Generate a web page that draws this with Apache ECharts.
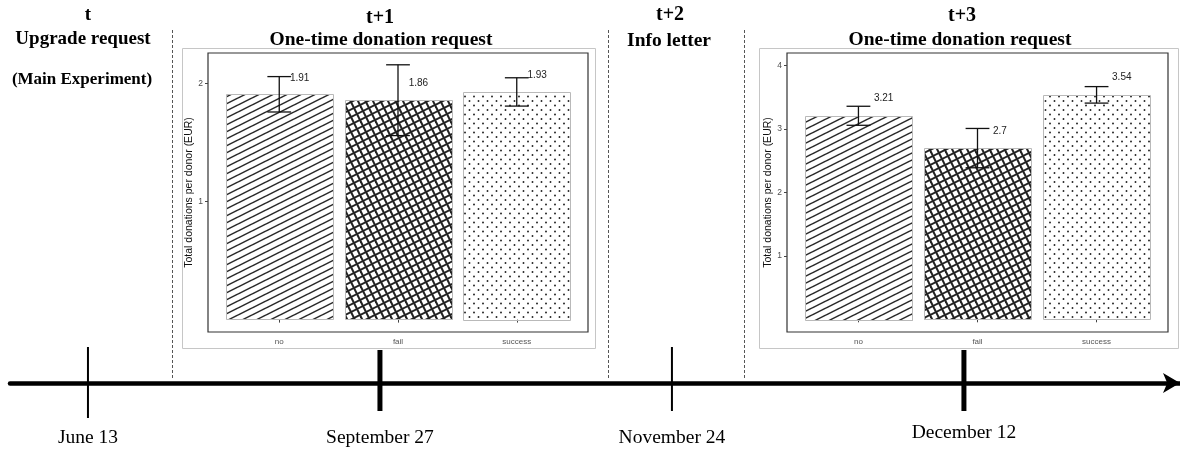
<!DOCTYPE html>
<html>
<head>
<meta charset="utf-8">
<script src="https://cdn.jsdelivr.net/npm/echarts@6/dist/echarts.min.js"></script>
<style>
  html, body { margin: 0; padding: 0; background: #fff; }
  #chart { width: 1180px; height: 452px; }
</style>
</head>
<body>
<div id="chart"></div>
<script>
// Treatment groups shown in both donation charts
const groups = ['no', 'fail', 'success'];

// t+1: one-time donation request (September 27)
const sepMeans = [1.91, 1.86, 1.93];
const sepErrors = [0.15, 0.30, 0.12];
const sepTicks = [1, 2];

// t+3: one-time donation request (December 12)
const decMeans = [3.21, 2.7, 3.54];
const decErrors = [0.15, 0.31, 0.13];
const decTicks = [1, 2, 3, 4];

// Timeline of mailings
const dates = ['June 13', 'September 27', 'November 24', 'December 12'];
const stages = ['t', 't+1', 't+2', 't+3'];
const stageTitles = ['Upgrade request', 'One-time donation request', 'Info letter', 'One-time donation request'];
const stageNote = '(Main Experiment)';
const donationRequest = [false, true, false, true];

const yTitle = 'Total donations per donor (EUR)';

// ---- fill patterns for the three groups ----
function makeCanvas(w, h) {
  const c = document.createElement('canvas');
  c.width = w; c.height = h;
  return c;
}
function hatch() {            // single diagonal lines, rising to the right
  const s = 7;
  const c = makeCanvas(2 * s, s), g = c.getContext('2d');
  g.strokeStyle = '#2a2a2a'; g.lineWidth = 1.5;
  for (let k = -2 * s; k <= 6 * s; k += 2 * s) {       // lines x + 2y = k
    g.beginPath(); g.moveTo(-2 * s, (k + 2 * s) / 2); g.lineTo(4 * s, (k - 4 * s) / 2); g.stroke();
  }
  return c;
}
function crossHatch() {       // two perpendicular families of lines
  const c = makeCanvas(15, 15), g = c.getContext('2d');
  g.strokeStyle = '#222'; g.lineWidth = 2;
  for (let k = -15; k <= 60; k += 15) {       // x + 2y = k
    g.beginPath(); g.moveTo(-30, (k + 30) / 2); g.lineTo(45, (k - 45) / 2); g.stroke();
  }
  for (let k = -45; k <= 45; k += 15) {       // 2x - y = k
    g.beginPath(); g.moveTo(-15, -30 - k); g.lineTo(30, 60 - k); g.stroke();
  }
  return c;
}
function dots() {             // sparse dot lattice
  const c = makeCanvas(9, 9), g = c.getContext('2d');
  g.fillStyle = '#222';
  [[1.5, 2], [6, 6.5]].forEach(([x, y]) => { g.beginPath(); g.arc(x, y, 0.95, 0, Math.PI * 2); g.fill(); });
  return c;
}
const fills = [hatch(), crossHatch(), dots()].map(img => ({ image: img, repeat: 'repeat' }));

// ---- donation chart helpers ----
function barSeries(idx, means, labelDx, labelDy) {
  return {
    type: 'custom', xAxisIndex: idx, yAxisIndex: idx, z: 2,
    data: means.map((m, i) => [i + 1, m]),
    encode: { x: 0, y: 1 },
    renderItem(params, api) {
      const x = api.value(0), v = api.value(1);
      const tl = api.coord([x - 0.45, v]), br = api.coord([x + 0.45, 0]);
      const lp = api.coord([x + labelDx, v + labelDy]);
      return {
        type: 'group',
        children: [
          { type: 'rect',
            shape: { x: Math.round(tl[0]) + 0.5, y: Math.round(tl[1]) + 0.5,
                     width: Math.round(br[0] - tl[0]), height: Math.round(br[1] - tl[1]) },
            style: { fill: fills[params.dataIndex], stroke: '#b9b9b9', lineWidth: 1 } },
          { type: 'text', x: lp[0], y: lp[1], z2: 10,
            style: { text: String(v), font: '10px "Liberation Sans"', fill: '#222',
                     textAlign: 'left', textVerticalAlign: 'middle' } }
        ]
      };
    }
  };
}
function errorSeries(idx, means, errs) {
  return {
    type: 'custom', xAxisIndex: idx, yAxisIndex: idx, z: 3,
    data: means.map((m, i) => [i + 1, m - errs[i], m + errs[i]]),
    encode: { x: 0, y: [1, 2] },
    renderItem(params, api) {
      const x = api.value(0), lo = api.value(1), hi = api.value(2);
      const top = api.coord([x, hi]), bot = api.coord([x, lo]);
      const l = api.coord([x - 0.1, hi])[0], r = api.coord([x + 0.1, hi])[0];
      const st = { stroke: '#111', lineWidth: 1.3 };
      return {
        type: 'group',
        children: [
          { type: 'line', shape: { x1: top[0], y1: top[1], x2: bot[0], y2: bot[1] }, style: st },
          { type: 'line', shape: { x1: l, y1: top[1], x2: r, y2: top[1] }, style: st },
          { type: 'line', shape: { x1: l, y1: bot[1], x2: r, y2: bot[1] }, style: st }
        ]
      };
    }
  };
}
function xAxisFor(idx) {
  return {
    gridIndex: idx, type: 'value', min: 0.4, max: 3.6,
    axisLine: { show: false }, splitLine: { show: false },
    axisTick: { show: true, length: 3, customValues: [1, 2, 3], lineStyle: { color: '#444' } },
    axisLabel: { customValues: [1, 2, 3], formatter: v => groups[Math.round(v) - 1],
                 fontSize: 8, color: '#555', margin: 6, fontFamily: 'Liberation Sans' }
  };
}
function yAxisFor(idx, min, max, ticks) {
  return {
    gridIndex: idx, type: 'value', min: min, max: max,
    name: yTitle, nameLocation: 'middle', nameRotate: 90, nameGap: 11,
    nameTextStyle: { fontSize: 10.5, color: '#111', fontFamily: 'Liberation Sans' },
    axisLine: { show: false }, splitLine: { show: false },
    axisTick: { show: true, length: 3, customValues: ticks, lineStyle: { color: '#444' } },
    axisLabel: { customValues: ticks, fontSize: 8.5, color: '#4d4d4d', margin: 5, fontFamily: 'Liberation Sans' }
  };
}

// ---- timeline ----
const timelineSeries = {
  type: 'custom', xAxisIndex: 2, yAxisIndex: 2, z: 5,
  data: dates.map((d, i) => [i, 0]),
  encode: { x: 0, y: 1 },
  renderItem(params, api) {
    const i = params.dataIndex;
    const p = api.coord([api.value(0), 0]);
    const major = donationRequest[i];
    const up = major ? 33 : 36;
    const down = i === 0 ? 35 : 28;
    const labelY = p[1] + (i === dates.length - 1 ? 50 : 55);
    return {
      type: 'group',
      children: [
        { type: 'line', shape: { x1: p[0], y1: p[1] - up, x2: p[0], y2: p[1] + down },
          style: { stroke: '#000', lineWidth: major ? 5 : 2 } },
        { type: 'text', x: p[0], y: labelY,
          style: { text: dates[i], font: '19.5px "Liberation Serif"', fill: '#000',
                   textAlign: 'center', textVerticalAlign: 'middle' } }
      ]
    };
  }
};

// ---- headings ----
function heading(text, x, y, size) {
  return { type: 'text', x: x, y: y, z: 10,
           style: { text: text, font: 'bold ' + (size || 19) + 'px "Liberation Serif"', fill: '#000',
                    textAlign: 'center', textVerticalAlign: 'middle' } };
}
function separator(x) {
  return { type: 'line', z: 1, shape: { x1: x, y1: 30, x2: x, y2: 378 },
           style: { stroke: '#555', lineWidth: 1, lineDash: [3, 2] } };
}
function frame(x, y, w, h) {
  return { type: 'rect', z: -1, shape: { x: x, y: y, width: w, height: h },
           style: { fill: '#fff', stroke: '#c6c6c6', lineWidth: 1 } };
}

const chart = echarts.init(document.getElementById('chart'), null, { renderer: 'canvas' });
chart.setOption({
  animation: false,
  backgroundColor: '#fff',
  textStyle: { fontFamily: 'Liberation Sans' },
  graphic: [
    frame(182.5, 48.5, 413, 300),
    frame(759.5, 48.5, 419, 300),
    separator(172.5), separator(608.5), separator(744.5),
    heading(stages[0], 88, 15),
    heading(stageTitles[0], 83, 39),
    heading(stageNote, 82, 80, 17),
    heading(stages[1], 380, 18, 20),
    heading(stageTitles[1], 381, 40, 19.5),
    heading(stages[2], 670, 15, 20),
    heading(stageTitles[2], 669, 41, 19.5),
    heading(stages[3], 962, 16, 20),
    heading(stageTitles[3], 960, 40, 19.5)
  ],
  grid: [
    { left: 208, top: 53, width: 380, height: 279, show: true, borderColor: '#333', borderWidth: 1.2, backgroundColor: 'rgba(0,0,0,0)' },
    { left: 787, top: 53, width: 381, height: 279, show: true, borderColor: '#333', borderWidth: 1.2, backgroundColor: 'rgba(0,0,0,0)' },
    { left: 10, top: 300, width: 1170, height: 83 }
  ],
  xAxis: [
    xAxisFor(0),
    xAxisFor(1),
    { gridIndex: 2, type: 'value', min: -0.267, max: 3.74, position: 'bottom',
      axisLine: { show: true, onZero: false, symbol: ['none', 'arrow'], symbolSize: [15, 17],
                  lineStyle: { color: '#000', width: 4.5 } },
      axisTick: { show: false }, axisLabel: { show: false }, splitLine: { show: false } }
  ],
  yAxis: [
    yAxisFor(0, -0.105, 2.26, sepTicks),
    yAxisFor(1, -0.2, 4.2, decTicks),
    { gridIndex: 2, type: 'value', min: 0, max: 1, show: false }
  ],
  series: [
    barSeries(0, sepMeans, 0.09, 0.14),
    errorSeries(0, sepMeans, sepErrors),
    barSeries(1, decMeans, 0.13, 0.27),
    errorSeries(1, decMeans, decErrors),
    timelineSeries
  ]
});
</script>
</body>
</html>
